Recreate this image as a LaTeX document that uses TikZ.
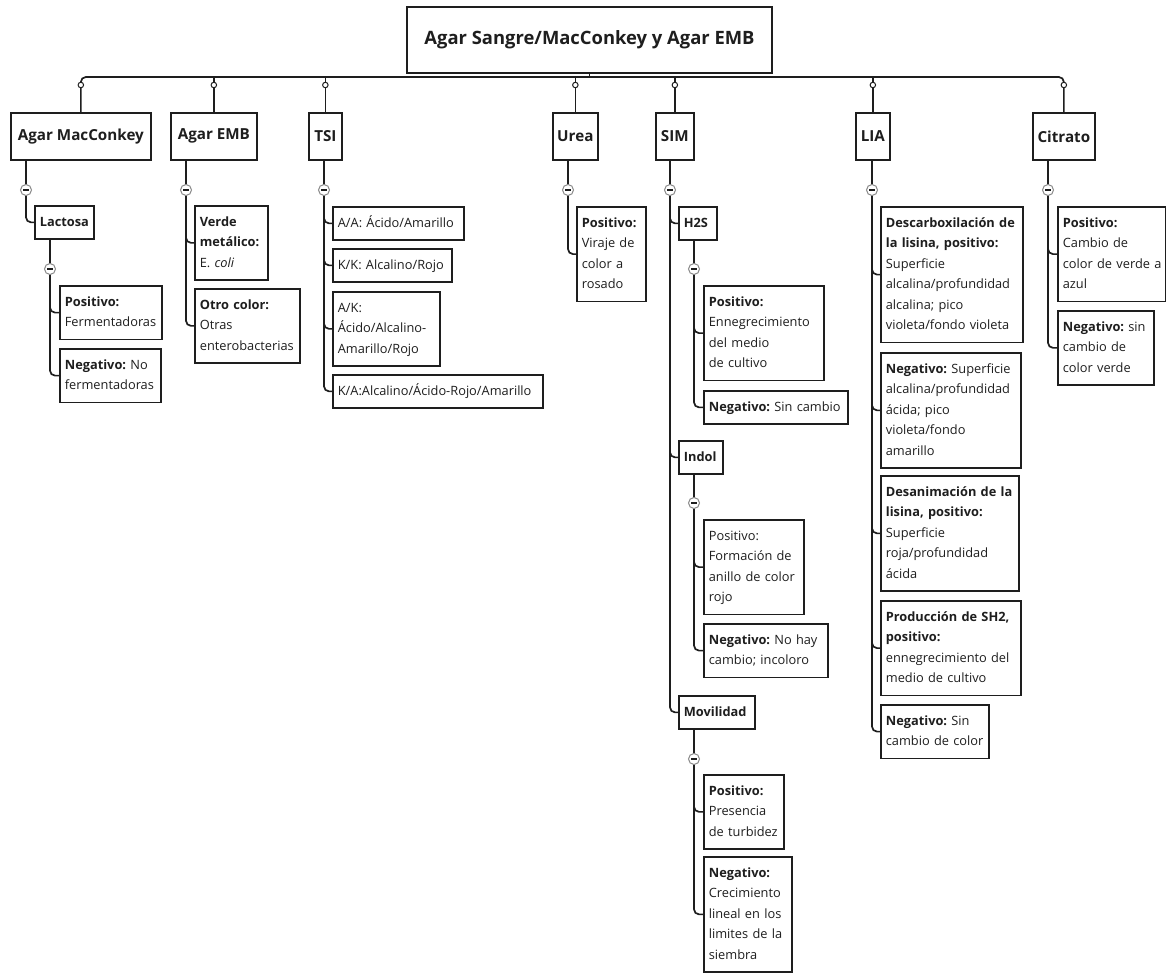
\documentclass[tikz,border=0pt]{standalone}
\usepackage{fontspec}
\setmainfont{Open Sans}
\usetikzlibrary{backgrounds}
\definecolor{lc}{HTML}{1E1E1E}
\definecolor{mc}{HTML}{8A8A8A}
\tikzset{
  conn/.style={line width=1.7pt, draw=lc, rounded corners=5pt},
  rootbox/.style={draw=lc, fill=white, line width=1.7pt, minimum width=365pt, minimum height=66pt, inner sep=0pt, font=\fontsize{18.4}{22}\selectfont\bfseries, text=lc},
  lvone/.style={draw=lc, fill=white, line width=1.7pt, anchor=north west, minimum height=47pt, inner xsep=3pt, font=\fontsize{15.2}{18}\selectfont\bfseries, text=lc},
  leaf/.style={draw=lc, fill=white, line width=1.7pt, anchor=north west, align=left, text width=#1, inner xsep=5pt, inner ysep=6.25pt, font=\fontsize{12.8}{20.5}\selectfont, text=lc,
    execute at begin node={\hyphenpenalty=10000\exhyphenpenalty=10000\strut}, execute at end node=\strut},
  bleaf/.style={leaf=#1, font=\fontsize{12.8}{20.5}\selectfont\bfseries},
  knob/.style={circle, draw=lc, fill=white, line width=1pt, minimum size=5.5pt, inner sep=0pt},
  minus/.style={circle, draw=mc, fill=white, line width=1pt, minimum size=11pt, inner sep=0pt,
    path picture={\draw[line width=1.3pt, lc] ([xshift=-2.6pt]path picture bounding box.center) -- ([xshift=2.6pt]path picture bounding box.center);}},
}
\begin{document}
\begin{tikzpicture}[x=1pt,y=-1pt]
\useasboundingbox (0,0) rectangle (1166,972);
\begin{scope}[on background layer]
\fill[white] (0,0) rectangle (1166,972);
\end{scope}
\coordinate (busY) at (0,77);
\coordinate (knobY) at (0,85);
% root
\node[rootbox] (root) at (589.5,40) {Agar Sangre/MacConkey y Agar EMB};
% level 1
\node[lvone, minimum width=140pt] (mac) at (10,112) {Agar MacConkey};
\node[lvone, minimum width=86pt] (emb) at (170,112) {Agar EMB};
\node[lvone, minimum width=33pt] (tsi) at (308,112) {TSI};
\node[lvone, minimum width=45pt] (urea) at (552,112) {Urea};
\node[lvone, minimum width=38pt] (sim) at (655,112) {SIM};
\node[lvone, minimum width=34pt] (lia) at (855,112) {LIA};
\node[lvone, minimum width=62pt] (cit) at (1032,112) {Citrato};
% knobs
\foreach \n in {mac,emb,tsi,urea,sim,lia,cit}{
  \node[knob] (k\n) at (\n.north |- knobY) {};
}
% minus nodes level 1
\node[minus] (macm) at (26,190) {};
\node[minus] (embm) at (186,190) {};
\node[minus] (tsim) at (324,190) {};
\node[minus] (uream) at (568,190) {};
\node[minus] (simm) at (670,190) {};
\node[minus] (liam) at (872,190) {};
\node[minus] (citm) at (1048,190) {};
% MacConkey
\node[bleaf=49pt] (lac) at (34,205) {Lactosa};
\node[minus] (lacm) at (50,269) {};
\node[leaf=92pt] (lacpos) at (59,285) {\textbf{Positivo:}\\Fermentadoras};
\node[leaf=91pt] (lacneg) at (59,348) {\textbf{Negativo:}~No\\fermentadoras};
% EMB
\node[leaf=63pt] (embv) at (194,205) {\textbf{Verde}\\\textbf{metálico:}\\E.~\textit{coli}};
\node[leaf=95pt] (embo) at (194,288) {\textbf{Otro~color:}\\Otras\\enterobacterias};
% TSI
\node[leaf=121pt] (tsi1) at (332,206) {A/A:~Ácido/Amarillo};
\node[leaf=109pt] (tsi2) at (332,248) {K/K:~Alcalino/Rojo};
\node[leaf=97pt] (tsi3) at (332,291) {A/K:\\Ácido/Alcalino-\\Amarillo/Rojo};
\node[leaf=200pt] (tsi4) at (332,374) {K/A:Alcalino/Ácido-Rojo/Amarillo};
% Urea
\node[leaf=59pt] (ureapos) at (576,206) {\textbf{Positivo:}\\Viraje~de\\color~a\\rosado};
% SIM
\node[bleaf=28pt] (h2s) at (678,206) {H2S};
\node[minus] (h2sm) at (694,269) {};
\node[leaf=110pt] (h2spos) at (703,285) {\textbf{Positivo:}\\Ennegrecimiento\\del~medio\\de~cultivo};
\node[leaf=134pt] (h2sneg) at (703,390) {\textbf{Negativo:}~Sin~cambio};
\node[bleaf=34pt] (indol) at (678,440) {Indol};
\node[minus] (indm) at (694,503) {};
\node[leaf=90pt] (indpos) at (703,519) {Positivo:\\Formación~de\\anillo~de~color\\rojo};
\node[leaf=114pt] (indneg) at (703,623) {\textbf{Negativo:}~No~hay\\cambio;~incoloro};
\node[bleaf=66pt] (movil) at (678,695) {Movilidad};
\node[minus] (movm) at (694,759) {};
\node[leaf=70pt] (movpos) at (703,774) {\textbf{Positivo:}\\Presencia\\de~turbidez};
\node[leaf=78pt] (movneg) at (703,856) {\textbf{Negativo:}\\Crecimiento\\lineal~en~los\\limites~de~la\\siembra};
% LIA
\node[leaf=132pt] (lia1) at (880,206) {\textbf{Descarboxilación~de}\\\textbf{la~lisina,~positivo:}\\Superficie\\alcalina/profundidad\\alcalina;~pico\\violeta/fondo~violeta};
\node[leaf=130pt] (lia2) at (880,352) {\textbf{Negativo:}~Superficie\\alcalina/profundidad\\ácida;~pico\\violeta/fondo\\amarillo};
\node[leaf=128pt] (lia3) at (880,475) {\textbf{Desanimación~de~la}\\\textbf{lisina,~positivo:}\\Superficie\\roja/profundidad\\ácida};
\node[leaf=130pt] (lia4) at (880,600) {\textbf{Producción~de~SH2,}\\\textbf{positivo:}\\ennegrecimiento~del\\medio~de~cultivo};
\node[leaf=98pt] (lia5) at (880,704) {\textbf{Negativo:}~Sin\\cambio~de~color};
% Citrato
\node[leaf=98pt] (cit1) at (1057,206) {\textbf{Positivo:}\\Cambio~de\\color~de~verde~a\\azul};
\node[leaf=86pt] (cit2) at (1057,310) {\textbf{Negativo:}~sin\\cambio~de\\color~verde};
% connectors
\begin{scope}[on background layer]
\draw[conn] (mac.north) -- (mac.north |- busY) -- (cit.north |- busY) -- (cit.north);
\draw[line width=2.4pt, lc] (emb.north |- busY) -- (lia.north |- busY);
\draw[conn] (root.south) -- (root.south |- busY);
\foreach \n in {emb,tsi,urea,sim,lia}{
  \draw[conn] (\n.north |- busY) -- (\n.north);
}
\foreach \n in {mac,emb,tsi,urea,sim,lia,cit}{
  \draw[conn] (\n m |- \n.south) -- (\n m.center);
}
\draw[conn] (macm.center) |- (lac.west);
\draw[conn] (lacm |- lac.south) -- (lacm.center);
\draw[conn] (lacm.center) |- (lacpos.west);
\draw[conn] (lacm.center) |- (lacneg.west);
\draw[conn] (embm.center) |- (embv.west);
\draw[conn] (embm.center) |- (embo.west);
\foreach \n in {tsi1,tsi2,tsi3,tsi4}{\draw[conn] (tsim.center) |- (\n.west);}
\draw[conn] (uream.center) |- (ureapos.west);
\foreach \n in {h2s,indol,movil}{\draw[conn] (simm.center) |- (\n.west);}
\draw[conn] (h2sm |- h2s.south) -- (h2sm.center);
\draw[conn] (h2sm.center) |- (h2spos.west);
\draw[conn] (h2sm.center) |- (h2sneg.west);
\draw[conn] (indm |- indol.south) -- (indm.center);
\draw[conn] (indm.center) |- (indpos.west);
\draw[conn] (indm.center) |- (indneg.west);
\draw[conn] (movm |- movil.south) -- (movm.center);
\draw[conn] (movm.center) |- (movpos.west);
\draw[conn] (movm.center) |- (movneg.west);
\foreach \n in {lia1,lia2,lia3,lia4,lia5}{\draw[conn] (liam.center) |- (\n.west);}
\draw[conn] (citm.center) |- (cit1.west);
\draw[conn] (citm.center) |- (cit2.west);
\end{scope}
\end{tikzpicture}
\end{document}
